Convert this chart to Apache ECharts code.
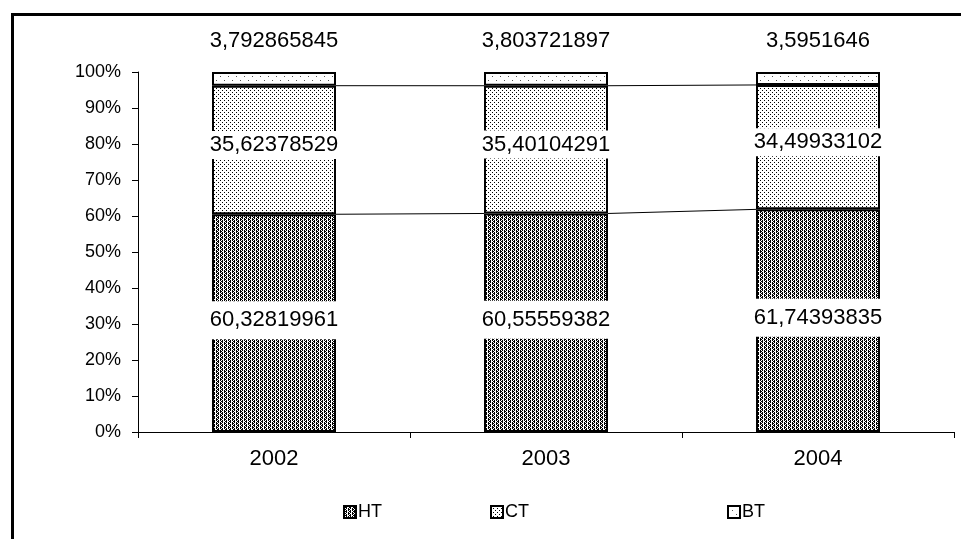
<!DOCTYPE html>
<html>
<head>
<meta charset="utf-8">
<script src="https://cdn.jsdelivr.net/npm/echarts@6/dist/echarts.min.js"></script>
<style>
  html, body { margin: 0; padding: 0; background: #fff; }
  #chart { width: 961px; height: 539px; }
</style>
</head>
<body>
<div id="chart"></div>
<script>
// Share of each group per year (raw percentages, stacked to 100%)
var years = ['2002', '2003', '2004'];
var seriesNames = ['HT', 'CT', 'BT'];
var htValues = [60.32819961, 60.55559382, 61.74393835];
var ctValues = [35.62378529, 35.40104291, 34.49933102];
var btValues = [3.792865845, 3.803721897, 3.5951646];
var yTicks = [0, 10, 20, 30, 40, 50, 60, 70, 80, 90, 100];

var FONT = '"Liberation Sans", Arial, sans-serif';

// Small bitmap tiles used as hatch fills
function makePattern(rows, dark, light) {
  var h = rows.length, w = rows[0].length;
  var c = document.createElement('canvas');
  c.width = w; c.height = h;
  var ctx = c.getContext('2d');
  ctx.fillStyle = light; ctx.fillRect(0, 0, w, h);
  ctx.fillStyle = dark;
  for (var y = 0; y < h; y++) {
    for (var x = 0; x < w; x++) {
      if (rows[y][x] === 'X') ctx.fillRect(x, y, 1, 1);
    }
  }
  return { image: c, repeat: 'repeat' };
}

var htFill = makePattern([
  'X.X.X.X.',
  '.XX..XX.',
  'X.X.X.X.',
  'XX..XX..'
], '#000', '#fff');
var ctFill = makePattern([
  'X...',
  '....',
  '..X.',
  '....'
], '#000', '#fff');
var btFill = makePattern([
  'X.......',
  '........',
  '........',
  '........',
  '....X...',
  '........',
  '........',
  '........'
], '#555', '#fff');

// Normalise each year to 100%
var totals = years.map(function (_, i) { return htValues[i] + ctValues[i] + btValues[i]; });
function pct(arr) { return arr.map(function (v, i) { return v / totals[i] * 100; }); }
var htPct = pct(htValues), ctPct = pct(ctValues), btPct = pct(btValues);

function rawLabel(raw) {
  return function (p) { return String(raw[p.dataIndex]).replace('.', ','); };
}

var BAR_W = 124;

// Connector lines between the stacked segment boundaries
var cumHT = htPct.slice();
var cumHTCT = htPct.map(function (v, i) { return v + ctPct[i]; });
var connectorData = [];
for (var i = 0; i < years.length - 1; i++) {
  connectorData.push([i, cumHT[i], cumHT[i + 1]]);
  connectorData.push([i, cumHTCT[i], cumHTCT[i + 1]]);
}

var labelBase = {
  show: true,
  color: '#000',
  fontFamily: FONT,
  fontSize: 22,
  backgroundColor: '#fff'
};

var chart = echarts.init(document.getElementById('chart'), null, { renderer: 'canvas' });
chart.setOption({
  animation: false,
  backgroundColor: '#fff',
  graphic: [{
    type: 'rect',
    left: 10, top: 12,
    shape: { x: 0, y: 0, width: 1000, height: 600 },
    style: { fill: null, stroke: '#000', lineWidth: 3 },
    z: 100
  }],
  grid: { left: 138, right: 7, top: 72, bottom: 107 },
  legend: [
    { data: ['HT'], left: 343, top: 503 },
    { data: ['CT'], left: 490, top: 503 },
    { data: ['BT'], left: 727, top: 503 }
  ].map(function (l) {
    return Object.assign(l, {
      padding: 0,
      itemWidth: 12, itemHeight: 12, itemGap: 2,
      icon: 'rect',
      textStyle: { fontFamily: FONT, fontSize: 18, color: '#000', padding: [0, 0, 0, -3] }
    });
  }),
  xAxis: {
    type: 'category',
    data: years,
    axisLine: { lineStyle: { color: '#000', width: 1 } },
    axisTick: { show: true, length: 6, lineStyle: { color: '#000' } },
    axisLabel: { color: '#000', fontFamily: FONT, fontSize: 22, margin: 16 },
    splitLine: { show: false }
  },
  yAxis: {
    type: 'value',
    min: yTicks[0], max: yTicks[yTicks.length - 1], interval: 10,
    axisLine: { show: true, lineStyle: { color: '#000', width: 1 } },
    axisTick: { show: true, length: 6, lineStyle: { color: '#000' } },
    axisLabel: { color: '#000', fontFamily: FONT, fontSize: 18, margin: 17, formatter: '{value}%' },
    splitLine: { show: false }
  },
  series: [
    {
      name: 'HT', type: 'bar', stack: 'total', barWidth: BAR_W,
      data: htPct,
      itemStyle: { color: htFill, borderColor: '#000', borderWidth: 2 },
      label: Object.assign({}, labelBase, {
        position: 'inside', offset: [0, -3], padding: [8, 2, 8, 2],
        formatter: rawLabel(htValues)
      })
    },
    {
      name: 'CT', type: 'bar', stack: 'total', barWidth: BAR_W,
      data: ctPct,
      itemStyle: { color: ctFill, borderColor: '#000', borderWidth: 2 },
      label: Object.assign({}, labelBase, {
        position: 'inside', offset: [0, -5], padding: [3, 2, 3, 2],
        formatter: rawLabel(ctValues)
      })
    },
    {
      name: 'BT', type: 'bar', stack: 'total', barWidth: BAR_W,
      data: btPct,
      itemStyle: { color: btFill, borderColor: '#000', borderWidth: 2 },
      label: Object.assign({}, labelBase, {
        position: 'top', distance: 20, padding: [0, 2, 0, 2],
        formatter: rawLabel(btValues)
      })
    },
    {
      name: 'connectors', type: 'custom',
      data: connectorData,
      silent: true,
      z: 1,
      renderItem: function (params, api) {
        var a = api.coord([api.value(0), api.value(1)]);
        var b = api.coord([api.value(0) + 1, api.value(2)]);
        return {
          type: 'line',
          shape: { x1: a[0] + BAR_W / 2, y1: a[1], x2: b[0] - BAR_W / 2, y2: b[1] },
          style: { stroke: '#000', lineWidth: 1 }
        };
      }
    }
  ]
});
</script>
</body>
</html>
